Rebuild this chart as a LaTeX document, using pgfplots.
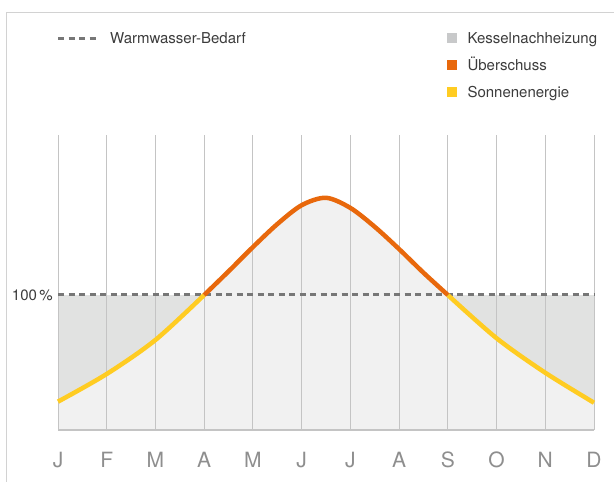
\documentclass[border=0pt]{standalone}
\usepackage{pgfplots}
\pgfplotsset{compat=1.18}
\usepackage{fontspec}
\setmainfont{TeX Gyre Heros}
\definecolor{kessel}{HTML}{E1E2E1}
\definecolor{lightfill}{HTML}{F1F1F1}
\definecolor{kesselleg}{HTML}{C8C9CA}
\definecolor{sonne}{HTML}{FFCC22}
\definecolor{ueber}{HTML}{E8680C}
\definecolor{gridc}{HTML}{C4C4C4}
\definecolor{dashc}{HTML}{777777}
\definecolor{txt}{HTML}{3C3C3C}
\definecolor{ticktxt}{HTML}{8E8E8E}
\definecolor{framec}{HTML}{D2D2D2}
\begin{document}
\begin{tikzpicture}
% frame
\draw[framec, line width=1.3bp] (-51.3bp,-52bp) -- (-51.3bp,417.3bp) -- (556bp,417.3bp);
\begin{axis}[
  set layers,
  at={(0,0)}, anchor=south west,
  scale only axis,
  width=536bp, height=295bp,
  xmin=0, xmax=11, ymin=0, ymax=218.5,
  axis line style={draw=none},
  xtick={0,...,11},
  xticklabels={J,F,M,A,M,J,J,A,S,O,N,D},
  ytick={100},
  yticklabels={100\hspace{2.5bp}\%},
  major tick length=0pt,
  xmajorgrids,
  major grid style={gridc, line width=1bp},
  xticklabel style={anchor=base, yshift=-37.5bp, text=ticktxt, font=\fontsize{21bp}{25bp}\selectfont},
  yticklabel style={text=txt, font=\fontsize{15bp}{18bp}\selectfont, inner sep=0pt, xshift=-5bp},
  clip=false,
]
\addplot[on layer=axis background, fill=kessel, draw=none] coordinates {(0,100) (11,100)} \closedcycle;
\addplot[on layer=axis background, fill=lightfill, draw=none, smooth] coordinates {
(0,21) (1,41.5) (2,66.7) (3,100) (3.5,117.5) (4,135.5) (4.5,152.5) (5,166.5) (5.5,172) (6,164.5) (6.5,150.5) (7,134) (7.5,116.5) (8,100) (9,68) (10,42.4) (11,20.2)} \closedcycle;
\addplot[dashc, line width=3bp, dash pattern=on 6bp off 4.5bp] coordinates {(0,100) (11,100)};
\addplot[sonne, line width=4.5bp, smooth] coordinates {(0,21) (1,41.5) (2,66.7) (3,100)};
\addplot[sonne, line width=4.5bp, smooth] coordinates {(8,100) (9,68) (10,42.4) (11,20.2)};
\addplot[ueber, line width=4.5bp, smooth] coordinates {(3,100) (3.5,117.5) (4,135.5) (4.5,152.5) (5,166.5) (5.5,172) (6,164.5) (6.5,150.5) (7,134) (7.5,116.5) (8,100)};
\draw[gridc, line width=2bp] (axis cs:0,0) -- (axis cs:11,0);
\end{axis}
% legend
\draw[dashc, line width=3bp, dash pattern=on 6bp off 4.5bp] (0bp,391.7bp) -- (41bp,391.7bp);
\node[anchor=base west, inner sep=0pt, text=txt, font=\fontsize{15bp}{18bp}\selectfont] at (52bp,386.7bp) {Warmwasser-Bedarf};
\fill[kesselleg] (388.7bp,386.7bp) rectangle (398.7bp,396.7bp);
\fill[ueber] (388.7bp,360bp) rectangle (398.7bp,370bp);
\fill[sonne] (388.7bp,333.3bp) rectangle (398.7bp,343.3bp);
\node[anchor=base west, inner sep=0pt, text=txt, font=\fontsize{15bp}{18bp}\selectfont] at (409.3bp,386.3bp) {Kesselnachheizung};
\node[anchor=base west, inner sep=0pt, text=txt, font=\fontsize{15bp}{18bp}\selectfont] at (409.3bp,359.6bp) {Überschuss};
\node[anchor=base west, inner sep=0pt, text=txt, font=\fontsize{15bp}{18bp}\selectfont] at (409.3bp,332.9bp) {Sonnenenergie};
\pgfresetboundingbox
\useasboundingbox (-58bp,-52bp) rectangle (556bp,430bp);
\end{tikzpicture}
\end{document}
